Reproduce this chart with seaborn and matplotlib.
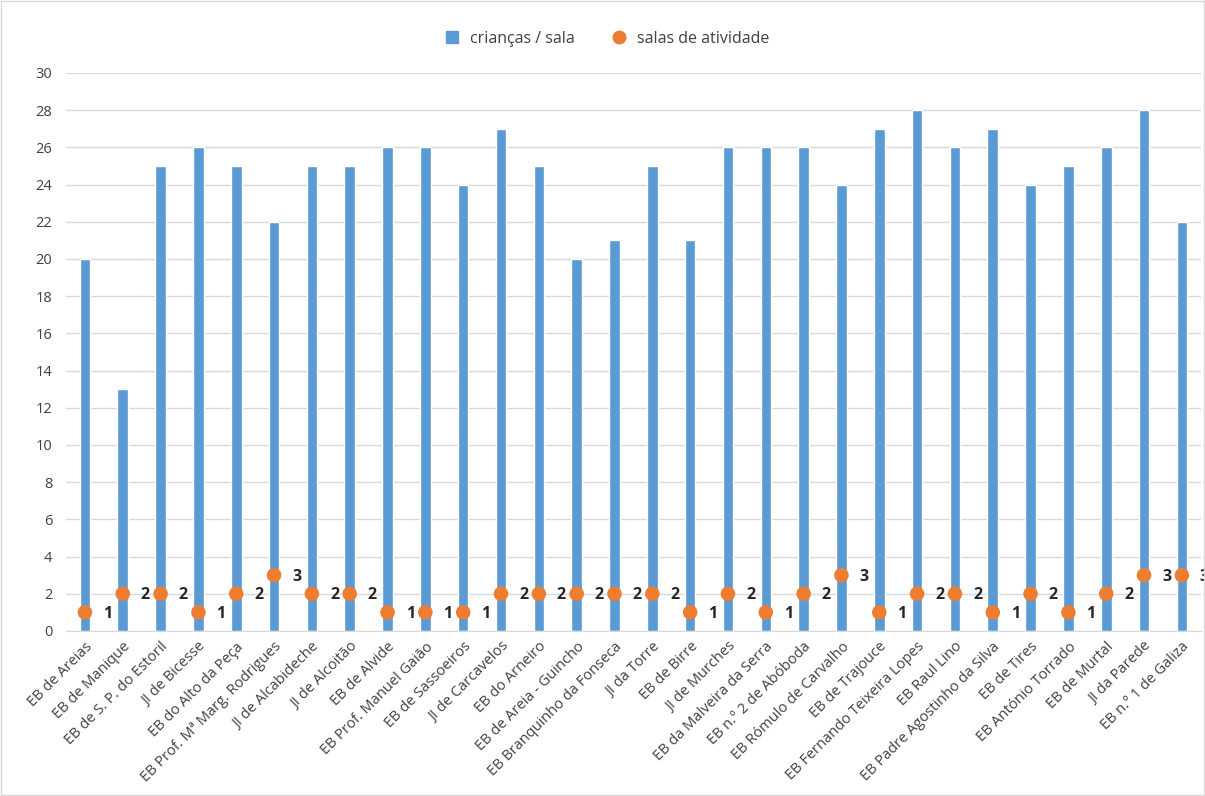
import pandas as pd
import numpy as np
import matplotlib
matplotlib.use('Agg')
import matplotlib.pyplot as plt
import seaborn as sns
from matplotlib.lines import Line2D
from matplotlib.patches import Rectangle

# Data
escolas = ['EB de Areias', 'EB de Manique', 'EB de S. P. do Estoril', 'JI de Bicesse',
           'EB do Alto da Peça', 'EB Prof. Mª Marg. Rodrigues', 'JI de Alcabideche',
           'JI de Alcoitão', 'EB de Alvide', 'EB Prof. Manuel Gaião', 'EB de Sassoeiros',
           'JI de Carcavelos', 'EB do Arneiro', 'EB de Areia - Guincho',
           'EB Branquinho da Fonseca', 'JI da Torre', 'EB de Birre', 'JI de Murches',
           'EB da Malveira da Serra', 'EB n.º 2 de Abóboda', 'EB Rómulo de Carvalho',
           'EB de Trajouce', 'EB Fernando Teixeira Lopes', 'EB Raul Lino',
           'EB Padre Agostinho da Silva', 'EB de Tires', 'EB António Torrado',
           'EB de Murtal', 'JI da Parede', 'EB n.º 1 de Galiza']
criancas_sala = [20, 13, 25, 26, 25, 22, 25, 25, 26, 26, 24, 27, 25, 20, 21,
                 25, 21, 26, 26, 26, 24, 27, 28, 26, 27, 24, 25, 26, 28, 22]
salas_atividade = [1, 2, 2, 1, 2, 3, 2, 2, 1, 1, 1, 2, 2, 2, 2,
                   2, 1, 2, 1, 2, 3, 1, 2, 2, 1, 2, 1, 2, 3, 3]
y_ticks = list(range(0, 31, 2))

df = pd.DataFrame({'escola': escolas, 'criancas': criancas_sala, 'salas': salas_atividade})

azul = '#5B9BD5'
laranja = '#ED7D31'

sns.set_style('white')
plt.rcParams['font.family'] = ['Open Sans', 'DejaVu Sans']

fig = plt.figure(figsize=(12.05, 7.96), dpi=100)
ax = fig.add_axes([0.0548, 0.2073, 0.9417, 0.701])

sns.barplot(data=df, x='escola', y='criancas', color=azul, width=0.28,
            saturation=1, ax=ax, zorder=2)
sns.scatterplot(data=df, x='escola', y='salas', color=laranja, s=110,
                edgecolor='none', ax=ax, zorder=3, clip_on=False)

# data labels next to the points (the last one runs off the edge, as in the original)
for i, v in enumerate(salas_atividade):
    ax.annotate(str(v), (i, v), xytext=(13, -1), textcoords='offset points',
                ha='left', va='center', fontsize=11.5, fontweight='bold',
                color='#262626', annotation_clip=False)

ax.set_ylim(0, 30)
ax.set_xlim(-0.5, len(escolas) - 0.5)
ax.set_yticks(y_ticks)
ax.yaxis.grid(True, color='#D9D9D9', linewidth=1, zorder=0)
ax.set_axisbelow(True)
ax.tick_params(axis='y', length=0, labelsize=10.5, colors='#404040', pad=10)

ax.set_xticks(range(len(escolas)))
ax.set_xticklabels(escolas, rotation=45, ha='right', rotation_mode='anchor',
                   fontsize=10.5, color='#404040')
ax.set_xticks(np.arange(-0.5, len(escolas), 1), minor=True)
ax.tick_params(axis='x', which='major', length=0, pad=6)
ax.tick_params(axis='x', which='minor', length=6, color='#D9D9D9', width=1)

ax.set_xlabel('')
ax.set_ylabel('')
for s in ['top', 'right', 'left']:
    ax.spines[s].set_visible(False)
ax.spines['bottom'].set_color('#D9D9D9')

handles = [
    Line2D([], [], marker='s', linestyle='none', color=azul, markersize=9),
    Line2D([], [], marker='o', linestyle='none', color=laranja, markersize=9),
]
fig.legend(handles, ['crianças / sala', 'salas de atividade'], loc='center',
           bbox_to_anchor=(0.5, 0.951), ncol=2, frameon=False, fontsize=11.5,
           handletextpad=0.1, columnspacing=1.8, labelcolor='#404040')

# chart area border
fig.patches.append(Rectangle((0.001, 0.001), 0.998, 0.998, transform=fig.transFigure,
                             fill=False, edgecolor='#D9D9D9', linewidth=1))

fig.savefig('out.png', dpi=100)
